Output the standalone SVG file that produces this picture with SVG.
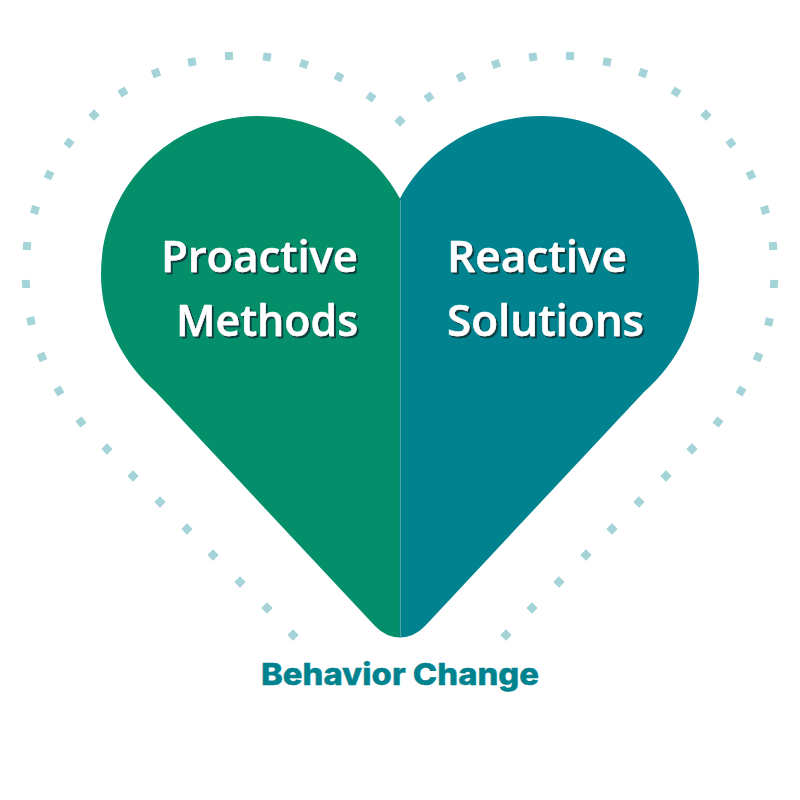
<svg xmlns="http://www.w3.org/2000/svg" width="800" height="800" viewBox="0 0 800 800">
<defs>
<filter id="sh" x="-10%" y="-20%" width="120%" height="140%"><feDropShadow dx="2" dy="2" stdDeviation="0.2" flood-color="#0a3d40" flood-opacity="1"/></filter>
<rect id="d" x="-4" y="-4" width="8" height="8" fill="#a4d4d7"/>
</defs>
<style>
.t{font-family:"Open Sans","Noto Sans",sans-serif;font-weight:600;font-size:43px;fill:#fff;stroke:#fff;stroke-width:0.5px;stroke-linejoin:round;filter:url(#sh)}
.c{font-family:"Inter","Liberation Sans",sans-serif;font-weight:800;font-size:30px;fill:#00838f;stroke:#00838f;stroke-width:0.4px}
</style>
<rect width="800" height="800" fill="#fff"/>
<g id="dots">
<use href="#d" transform="translate(400 121) rotate(45)"/>
<use href="#d" transform="translate(371 97) rotate(35)"/><use href="#d" transform="translate(339 77) rotate(27)"/><use href="#d" transform="translate(304 64) rotate(18)"/><use href="#d" transform="translate(267 57) rotate(8)"/><use href="#d" transform="translate(229 56) rotate(-3)"/><use href="#d" transform="translate(192 62) rotate(-10)"/><use href="#d" transform="translate(156 73) rotate(-20)"/><use href="#d" transform="translate(123 92) rotate(-32)"/><use href="#d" transform="translate(94 115) rotate(45)"/><use href="#d" transform="translate(69 143) rotate(38)"/><use href="#d" transform="translate(49 175) rotate(25)"/><use href="#d" transform="translate(35 210) rotate(15)"/><use href="#d" transform="translate(27 246) rotate(5)"/><use href="#d" transform="translate(26 284) rotate(-5)"/><use href="#d" transform="translate(31 321) rotate(-12)"/><use href="#d" transform="translate(42 357) rotate(-22)"/><use href="#d" transform="translate(59 391) rotate(-30)"/><use href="#d" transform="translate(81 422) rotate(-38)"/><use href="#d" transform="translate(107 449) rotate(45)"/><use href="#d" transform="translate(133 476) rotate(45)"/><use href="#d" transform="translate(160 502) rotate(45)"/><use href="#d" transform="translate(187 529) rotate(45)"/><use href="#d" transform="translate(213 555) rotate(45)"/><use href="#d" transform="translate(240 582) rotate(45)"/><use href="#d" transform="translate(267 608) rotate(45)"/><use href="#d" transform="translate(293 635) rotate(45)"/>
<use href="#d" transform="translate(429 97) rotate(-35)"/><use href="#d" transform="translate(461 77) rotate(-27)"/><use href="#d" transform="translate(496 64) rotate(-18)"/><use href="#d" transform="translate(533 57) rotate(-8)"/><use href="#d" transform="translate(570 56) rotate(3)"/><use href="#d" transform="translate(607 62) rotate(10)"/><use href="#d" transform="translate(643 73) rotate(20)"/><use href="#d" transform="translate(676 92) rotate(32)"/><use href="#d" transform="translate(706 115) rotate(45)"/><use href="#d" transform="translate(731 143) rotate(-38)"/><use href="#d" transform="translate(751 175) rotate(-25)"/><use href="#d" transform="translate(765 210) rotate(-15)"/><use href="#d" transform="translate(773 246) rotate(-5)"/><use href="#d" transform="translate(774 284) rotate(5)"/><use href="#d" transform="translate(769 322) rotate(12)"/><use href="#d" transform="translate(758 357) rotate(22)"/><use href="#d" transform="translate(741 391) rotate(30)"/><use href="#d" transform="translate(718 422) rotate(38)"/><use href="#d" transform="translate(692 449) rotate(45)"/><use href="#d" transform="translate(666 476) rotate(45)"/><use href="#d" transform="translate(639 502) rotate(45)"/><use href="#d" transform="translate(612 529) rotate(45)"/><use href="#d" transform="translate(586 555) rotate(45)"/><use href="#d" transform="translate(559 582) rotate(45)"/><use href="#d" transform="translate(532 608) rotate(45)"/><use href="#d" transform="translate(506 635) rotate(45)"/>
</g>
<g id="proactive">
<path d="M400.500 199.600C375 150 320 116 258.500 116C171 116 101 187 101 274C101 321 122 362 156 392L375 626Q386 637.500 400.500 637.500Z" fill="#058e6a"/>
<text class="t" x="358" y="271.500" text-anchor="end" textLength="197" lengthAdjust="spacingAndGlyphs">Proactive</text>
<text class="t" x="358" y="335.500" text-anchor="end" textLength="182" lengthAdjust="spacingAndGlyphs">Methods</text>
</g>
<g id="reactive">
<path d="M399.500 199.600C425 150 480 116 541.500 116C629 116 699 187 699 274C699 321 678 362 644 392L425 626Q414 637.500 399.500 637.500Z" fill="#00838f"/>
<text class="t" x="447" y="271.500" textLength="180" lengthAdjust="spacingAndGlyphs">Reactive</text>
<text class="t" x="447" y="335.500" textLength="197" lengthAdjust="spacingAndGlyphs">Solutions</text>
</g>
<path d="M400.500 200V637" stroke="#4fa5a5" stroke-width="1" fill="none"/>
<g id="caption"><text class="c" x="261" y="685" textLength="278" lengthAdjust="spacingAndGlyphs">Behavior Change</text></g>
</svg>
